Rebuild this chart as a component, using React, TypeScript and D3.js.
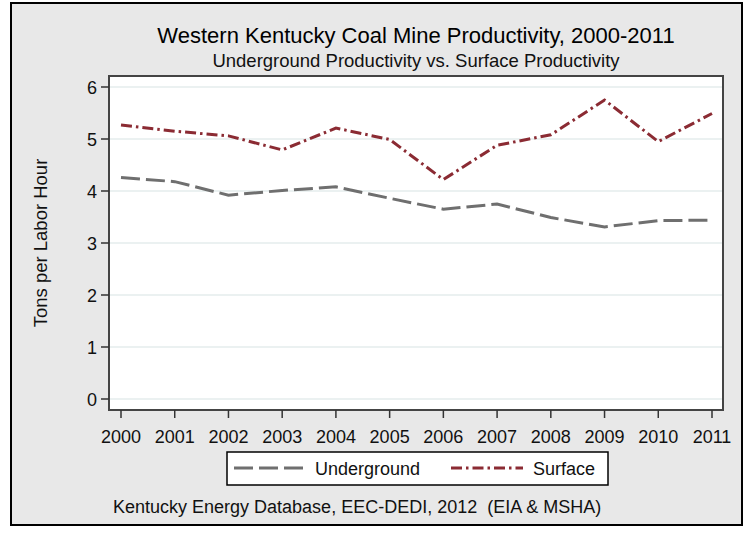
import React from "react";
import * as d3 from "d3";

const years = [2000, 2001, 2002, 2003, 2004, 2005, 2006, 2007, 2008, 2009, 2010, 2011];
const underground = [4.26, 4.18, 3.92, 4.01, 4.08, 3.86, 3.65, 3.75, 3.49, 3.31, 3.43, 3.44];
const surface = [5.27, 5.15, 5.06, 4.79, 5.21, 4.99, 4.22, 4.88, 5.08, 5.75, 4.95, 5.49];
const yTicks = [0, 1, 2, 3, 4, 5, 6];
const seriesNames = ["Underground", "Surface"];

const W = 746;
const H = 536;
const plot = { left: 109, right: 723, top: 76, bottom: 410 };
const FONT = "'Liberation Sans', Arial, sans-serif";

export default function App() {
  const x = d3.scaleLinear().domain([2000, 2011]).range([121, 712]);
  const y = d3.scaleLinear().domain([0, 6]).range([399, 87]);
  const line = d3
    .line<number>()
    .x((_, i) => x(years[i]))
    .y((d) => y(d));

  const uColor = "#6f6f6f";
  const sColor = "#8b2b33";
  const uDash = "19,6";
  const sDash = "11,4,2.5,4";

  return (
    <svg
      width={W}
      height={H}
      style={{ position: "absolute", left: 0, top: 0, background: "#fff" }}
      fontFamily={FONT}
    >
      <rect x={11} y={3} width={731} height={522} fill="#e8e8e8" stroke="#000" strokeWidth={2} />
      <text x={416} y={43} textAnchor="middle" fontSize={22} fill="#000">
        Western Kentucky Coal Mine Productivity, 2000-2011
      </text>
      <text x={416} y={67} textAnchor="middle" fontSize={18.5} fill="#111">
        Underground Productivity vs. Surface Productivity
      </text>

      <rect
        x={plot.left}
        y={plot.top}
        width={plot.right - plot.left}
        height={plot.bottom - plot.top}
        fill="#fff"
      />
      {yTicks.map((t) => (
        <line
          key={"g" + t}
          x1={plot.left}
          x2={plot.right}
          y1={y(t)}
          y2={y(t)}
          stroke="#e4ecec"
          strokeWidth={1.5}
        />
      ))}
      <rect
        x={plot.left}
        y={plot.top}
        width={plot.right - plot.left}
        height={plot.bottom - plot.top}
        fill="none"
        stroke="#444"
        strokeWidth={2}
      />
      {yTicks.map((t) => (
        <g key={"yt" + t}>
          <line x1={plot.left - 8} x2={plot.left} y1={y(t)} y2={y(t)} stroke="#333" strokeWidth={1.5} />
          <text x={plot.left - 12} y={y(t) + 6.5} textAnchor="end" fontSize={18} fill="#111">
            {t}
          </text>
        </g>
      ))}
      {years.map((yr) => (
        <g key={"xt" + yr}>
          <line x1={x(yr)} x2={x(yr)} y1={plot.bottom} y2={plot.bottom + 8} stroke="#333" strokeWidth={1.5} />
          <text x={x(yr)} y={443} textAnchor="middle" fontSize={18} fill="#111">
            {yr}
          </text>
        </g>
      ))}
      <text
        transform={`translate(47,${(plot.top + plot.bottom) / 2}) rotate(-90)`}
        textAnchor="middle"
        fontSize={18.5}
        fill="#111"
      >
        Tons per Labor Hour
      </text>

      <path d={line(underground) || ""} fill="none" stroke={uColor} strokeWidth={3} strokeDasharray={uDash} />
      <path d={line(surface) || ""} fill="none" stroke={sColor} strokeWidth={3} strokeDasharray={sDash} />

      <rect x={227} y={452} width={381} height={33} fill="#fff" stroke="#000" strokeWidth={1.5} />
      <line x1={234} x2={304} y1={468} y2={468} stroke={uColor} strokeWidth={3} strokeDasharray={uDash} />
      <text x={315} y={474.5} fontSize={18} fill="#111">
        {seriesNames[0]}
      </text>
      <line x1={451} x2={523} y1={468} y2={468} stroke={sColor} strokeWidth={3} strokeDasharray={sDash} />
      <text x={533} y={474.5} fontSize={18} fill="#111">
        {seriesNames[1]}
      </text>

      <text x={113} y={513} fontSize={18} fill="#111" style={{ whiteSpace: "pre" }}>
        Kentucky Energy Database, EEC-DEDI, 2012  (EIA &amp; MSHA)
      </text>
    </svg>
  );
}
